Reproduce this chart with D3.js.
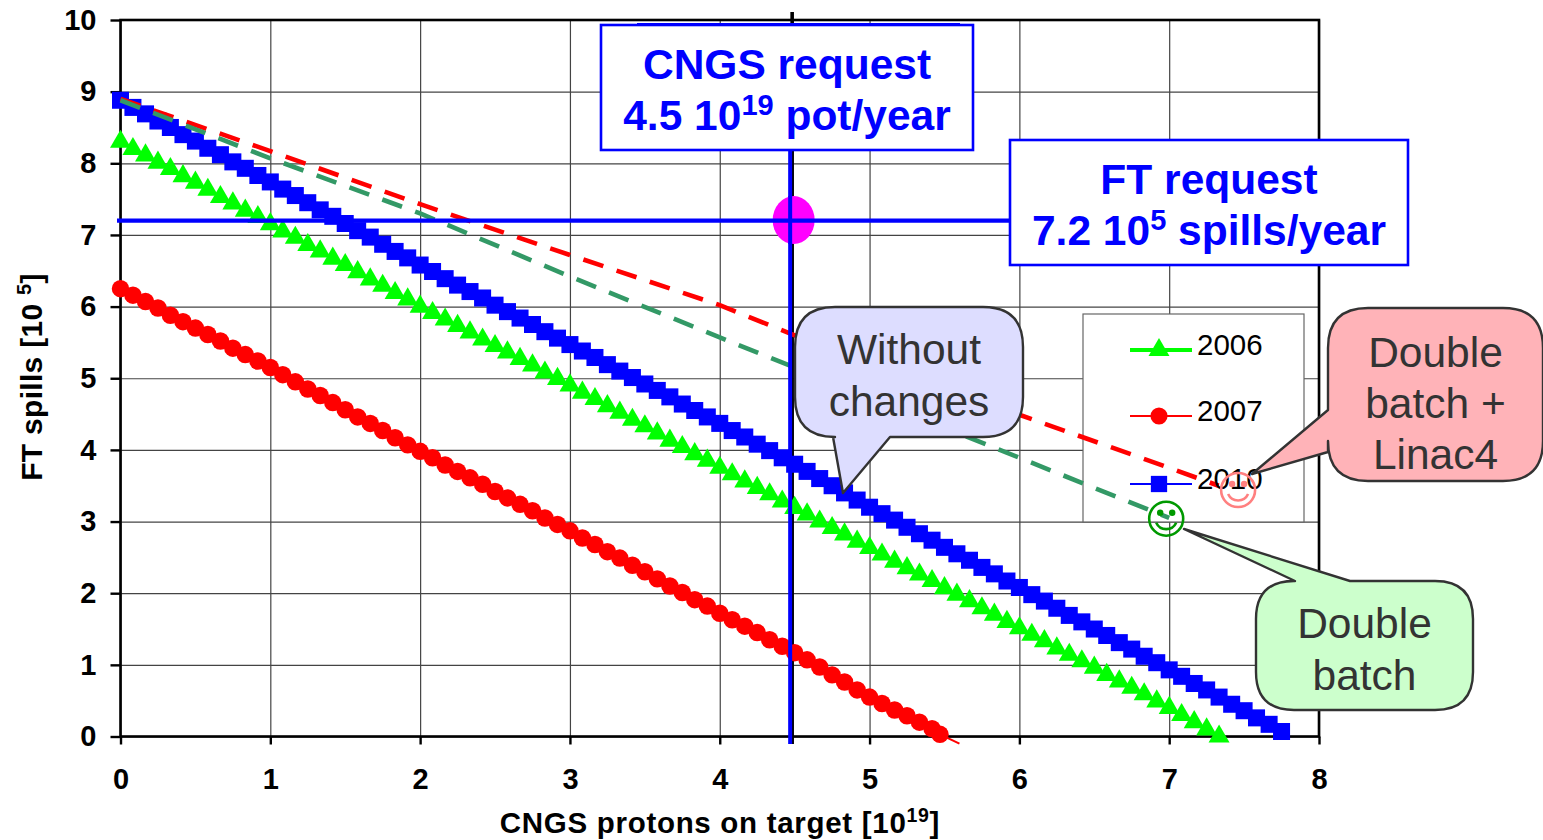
<!DOCTYPE html>
<html>
<head>
<meta charset="utf-8">
<script src="https://cdn.jsdelivr.net/npm/d3@7"></script>
<style>
  html, body { margin: 0; background: #fff; }
  svg { display: block; }
  text { font-family: "Liberation Sans", Arial, sans-serif; }
  .tick text { font-size: 29px; font-weight: bold; fill: #000; }
</style>
</head>
<body>
<svg id="chart" width="1543" height="840"></svg>
<script>
// x is the same for all three years, one point every 1/12 of a unit
const protons = [
  0, 0.083, 0.167, 0.25, 0.333, 0.417, 0.5, 0.583, 0.667, 0.75, 0.833, 0.917,
  1, 1.083, 1.167, 1.25, 1.333, 1.417, 1.5, 1.583, 1.667, 1.75, 1.833, 1.917,
  2, 2.083, 2.167, 2.25, 2.333, 2.417, 2.5, 2.583, 2.667, 2.75, 2.833, 2.917,
  3, 3.083, 3.167, 3.25, 3.333, 3.417, 3.5, 3.583, 3.667, 3.75, 3.833, 3.917,
  4, 4.083, 4.167, 4.25, 4.333, 4.417, 4.5, 4.583, 4.667, 4.75, 4.833, 4.917,
  5, 5.083, 5.167, 5.25, 5.333, 5.417, 5.47, 5.6
];
const protons2 = [
  5.5, 5.583, 5.667, 5.75, 5.833, 5.917,
  6, 6.083, 6.167, 6.25, 6.333, 6.417, 6.5, 6.583, 6.667, 6.75, 6.833, 6.917,
  7, 7.083, 7.167, 7.25, 7.333, 7.417, 7.5, 7.583, 7.667, 7.75
];
const spills2006 = [
  8.30, 8.20, 8.11, 8.01, 7.92, 7.82, 7.73, 7.63, 7.53, 7.44, 7.34, 7.25,
  7.15, 7.05, 6.96, 6.86, 6.77, 6.67, 6.58, 6.48, 6.38, 6.29, 6.19, 6.10,
  6.00, 5.91, 5.82, 5.73, 5.64, 5.54, 5.45, 5.36, 5.27, 5.18, 5.08, 4.99,
  4.90, 4.80, 4.71, 4.61, 4.52, 4.42, 4.33, 4.23, 4.13, 4.04, 3.94, 3.85,
  3.75, 3.66, 3.56, 3.47, 3.38, 3.28, 3.19, 3.10, 3.00, 2.91, 2.82, 2.72,
  2.63, 2.54, 2.44, 2.35, 2.26, 2.17, 2.07, 1.98, 1.89, 1.79, 1.70, 1.60,
  1.51, 1.42, 1.33, 1.23, 1.14, 1.05, 0.96, 0.86, 0.77, 0.68, 0.59, 0.49,
  0.40, 0.30, 0.20, 0.10, 0.00
];
const spills2007 = [
  6.25, 6.16, 6.07, 5.98, 5.88, 5.79, 5.70, 5.61, 5.52, 5.42, 5.33, 5.24,
  5.15, 5.05, 4.95, 4.85, 4.76, 4.66, 4.56, 4.46, 4.37, 4.27, 4.17, 4.07,
  3.98, 3.89, 3.79, 3.70, 3.61, 3.52, 3.42, 3.33, 3.24, 3.15, 3.05, 2.96,
  2.87, 2.77, 2.68, 2.58, 2.49, 2.39, 2.30, 2.20, 2.10, 2.01, 1.91, 1.82,
  1.72, 1.63, 1.54, 1.45, 1.35, 1.26, 1.17, 1.07, 0.97, 0.86, 0.76, 0.65,
  0.55, 0.46, 0.37, 0.29, 0.20, 0.11, 0.03
];
const spills2010 = [
  8.88, 8.78, 8.69, 8.59, 8.50, 8.40, 8.31, 8.21, 8.12, 8.02, 7.93, 7.83,
  7.74, 7.64, 7.55, 7.45, 7.35, 7.26, 7.16, 7.06, 6.97, 6.87, 6.77, 6.68,
  6.58, 6.49, 6.39, 6.30, 6.21, 6.12, 6.02, 5.93, 5.84, 5.75, 5.65, 5.56,
  5.47, 5.38, 5.29, 5.19, 5.10, 5.01, 4.92, 4.83, 4.74, 4.64, 4.55, 4.46,
  4.37, 4.27, 4.18, 4.08, 3.99, 3.89, 3.80, 3.70, 3.60, 3.50, 3.40, 3.30,
  3.20, 3.11, 3.02, 2.92, 2.83, 2.74, 2.64, 2.55, 2.46, 2.36, 2.27, 2.17,
  2.08, 1.98, 1.89, 1.79, 1.69, 1.60, 1.50, 1.41, 1.31, 1.22, 1.12, 1.03,
  0.93, 0.84, 0.74, 0.65, 0.55, 0.45, 0.36, 0.26, 0.17, 0.07
];
const dashedX = [0, 1, 2, 3, 4, 4.5, 5, 6, 7, 7.33];
const doubleBatchLinac4 = [8.9, 8.17, 7.43, 6.72, 6.02, 5.6, 5.23, 4.49, 3.75, 3.5];
const doubleBatch = [8.88, 8.07, 7.3, 6.42, 5.57, 5.15, 4.73, 3.89, 3.05];
const cngsRequest = 4.5;
const ftRequest = 7.2;
const xTicks = [0, 1, 2, 3, 4, 5, 6, 7, 8];
const yTicks = [0, 1, 2, 3, 4, 5, 6, 7, 8, 9, 10];

const svg = d3.select("#chart");
const x = d3.scaleLinear().domain([0, 8]).range([120.5, 1319]);
const y = d3.scaleLinear().domain([0, 10]).range([736.5, 20]);
const allX = protons.slice(0, 66).concat(protons2);

// grid first, frame on top of it
svg.append("g")
  .attr("transform", "translate(0,736.5)")
  .call(d3.axisBottom(x).tickValues(xTicks).tickSize(-716.5).tickFormat(""))
  .call(g => g.select(".domain").remove())
  .call(g => g.selectAll("line").attr("stroke", "#444").attr("stroke-width", 1.2));
svg.append("g")
  .attr("transform", "translate(120.5,0)")
  .call(d3.axisLeft(y).tickValues(yTicks).tickSize(-1198.5).tickFormat(""))
  .call(g => g.select(".domain").remove())
  .call(g => g.selectAll("line").attr("stroke", "#444").attr("stroke-width", 1.2));

svg.append("rect").attr("x", x(0)).attr("y", y(10))
  .attr("width", x(8) - x(0)).attr("height", y(0) - y(10))
  .attr("fill", "none").attr("stroke", "#000").attr("stroke-width", 2.6);

const xAxis = svg.append("g")
  .attr("transform", "translate(0,736.5)")
  .call(d3.axisBottom(x).tickValues(xTicks).tickSize(8).tickPadding(24).tickFormat(d3.format("d")));
xAxis.select(".domain").remove();
xAxis.selectAll("line").attr("stroke", "#000").attr("stroke-width", 2.4);
const yAxis = svg.append("g")
  .attr("transform", "translate(120.5,0)")
  .call(d3.axisLeft(y).tickValues(yTicks).tickSize(10).tickPadding(14).tickFormat(d3.format("d")));
yAxis.select(".domain").remove();
yAxis.selectAll("line").attr("stroke", "#000").attr("stroke-width", 2.4);

// legend box sits over the grid but under the dashed lines
const legendYears = ["2006", "2007", "2010"];
const legendColors = ["#00ff00", "#ff0000", "#0000ff"];
const legendWidths = [4, 2, 2];
const legendSymbols = [d3.symbolTriangle, d3.symbolCircle, d3.symbolSquare];
const legendSizes = [190, 230, 265];
const legendRows = [350, 416, 484];

svg.append("rect").attr("x", 1083).attr("y", 314).attr("width", 221).attr("height", 208)
  .attr("fill", "#fff").attr("stroke", "#666").attr("stroke-width", 1.2);

// vertical CNGS line and its black twin
svg.append("line").attr("x1", x(cngsRequest) - 2.5).attr("x2", x(cngsRequest) - 2.5)
  .attr("y1", 12).attr("y2", 744).attr("stroke", "#000").attr("stroke-width", 3.6);

function drawSeries(xs, ys, color, symbol, size, lineWidth) {
  const pts = ys.map((v, i) => [xs[i], v]);
  svg.append("path").datum(pts)
    .attr("fill", "none").attr("stroke", color).attr("stroke-width", lineWidth)
    .attr("d", d3.line().x(d => x(d[0])).y(d => y(d[1])));
  svg.append("g").selectAll("path").data(pts).join("path")
    .attr("d", d3.symbol().type(symbol).size(size))
    .attr("fill", color)
    .attr("transform", d => `translate(${x(d[0])},${y(d[1])})`);
}

drawSeries(allX, spills2006, "#00ff00", d3.symbolTriangle, 190, 2);
drawSeries(protons, spills2007, "#ff0000", d3.symbolCircle, 240, 2);
svg.append("path").datum([[protons[66], 0.03], [protons[67], -0.1]])
  .attr("stroke", "#ff0000").attr("stroke-width", 2)
  .attr("d", d3.line().x(d => x(d[0])).y(d => y(d[1])));
drawSeries(allX, spills2010, "#0000ff", d3.symbolSquare, 290, 2);

function drawDashed(ys, color) {
  svg.append("path").datum(ys.map((v, i) => [dashedX[i], v]))
    .attr("fill", "none").attr("stroke", color).attr("stroke-width", 4.6)
    .attr("stroke-dasharray", "21,14")
    .attr("d", d3.line().x(d => x(d[0])).y(d => y(d[1])));
}
drawDashed(doubleBatchLinac4, "#ff0000");
drawDashed(doubleBatch, "#339966");

// legend rows
legendYears.forEach((yr, i) => {
  const ry = legendRows[i];
  svg.append("line").attr("x1", 1130).attr("x2", 1192).attr("y1", ry).attr("y2", ry)
    .attr("stroke", legendColors[i]).attr("stroke-width", legendWidths[i]);
  svg.append("path").attr("d", d3.symbol().type(legendSymbols[i]).size(legendSizes[i]))
    .attr("fill", legendColors[i]).attr("transform", `translate(1159,${ry})`);
  svg.append("text").attr("x", 1197).attr("y", ry + 5).attr("font-size", 29.5).attr("fill", "#000").text(yr);
});

// blue request lines and boxes
svg.append("line").attr("x1", x(cngsRequest) - 4.5).attr("x2", x(cngsRequest) - 4.5)
  .attr("y1", 143).attr("y2", 744).attr("stroke", "#0000ff").attr("stroke-width", 4);
svg.append("ellipse").attr("cx", x(cngsRequest) - 1).attr("cy", y(ftRequest) - 0.5)
  .attr("rx", 21).attr("ry", 24).attr("fill", "#ff00ff");
svg.append("line").attr("x1", x(cngsRequest) - 4.5).attr("x2", x(cngsRequest) - 4.5)
  .attr("y1", 196).attr("y2", 244).attr("stroke", "#0000ff").attr("stroke-width", 4);
svg.append("line").attr("x1", 117).attr("x2", 1013).attr("y1", y(ftRequest)).attr("y2", y(ftRequest))
  .attr("stroke", "#0000ff").attr("stroke-width", 4.4);

svg.append("line").attr("x1", 637).attr("x2", 960).attr("y1", 24).attr("y2", 24)
  .attr("stroke", "#0000ff").attr("stroke-width", 2);

function requestBox(bx, by, w, h, line1, base, sup, rest) {
  svg.append("rect").attr("x", bx).attr("y", by).attr("width", w).attr("height", h)
    .attr("fill", "#fff").attr("stroke", "#0000ff").attr("stroke-width", 2.6);
  const cx = bx + w / 2;
  svg.append("text").attr("x", cx).attr("y", by + 54).attr("text-anchor", "middle")
    .attr("font-size", 42.5).attr("font-weight", "bold").attr("fill", "#0000ff").text(line1);
  const t = svg.append("text").attr("x", cx).attr("y", by + 105).attr("text-anchor", "middle")
    .attr("font-size", 42.5).attr("font-weight", "bold").attr("fill", "#0000ff");
  t.append("tspan").text(base);
  t.append("tspan").attr("dy", -15).attr("font-size", 29).text(sup);
  t.append("tspan").attr("dy", 15).text(rest);
}
requestBox(601, 25, 372, 125, "CNGS request", "4.5 10", "19", " pot/year");
requestBox(1010, 140, 398, 125, "FT request", "7.2 10", "5", " spills/year");

// callouts
function callout(bx, by, w, h, r, tail, fill, lines, firstBase, gap) {
  // rounded box with a pointed tail on one side
  const p = d3.path();
  const [a, tip, b, side] = tail;
  p.moveTo(bx + r, by);
  if (side == "top") { p.lineTo(a, by); p.lineTo(tip[0], tip[1]); p.lineTo(b, by); }
  p.lineTo(bx + w - r, by);
  p.quadraticCurveTo(bx + w, by, bx + w, by + r);
  p.lineTo(bx + w, by + h - r);
  p.quadraticCurveTo(bx + w, by + h, bx + w - r, by + h);
  if (side == "bottom") { p.lineTo(b, by + h); p.lineTo(tip[0], tip[1]); p.lineTo(a, by + h); }
  p.lineTo(bx + r, by + h);
  p.quadraticCurveTo(bx, by + h, bx, by + h - r);
  if (side == "left") { p.lineTo(bx, b); p.lineTo(tip[0], tip[1]); p.lineTo(bx, a); }
  p.lineTo(bx, by + r);
  p.quadraticCurveTo(bx, by, bx + r, by);
  p.closePath();
  svg.append("path").attr("d", p.toString()).attr("fill", fill)
    .attr("stroke", "#333").attr("stroke-width", 2.4).attr("stroke-linejoin", "round");
  lines.forEach((s, i) => {
    svg.append("text").attr("x", bx + w / 2).attr("y", firstBase + i * gap)
      .attr("text-anchor", "middle").attr("font-size", 42.5).attr("fill", "#333").text(s);
  });
}
callout(795, 307, 228, 130, 40, [833, [843, 493], 890, "bottom"], "#ddddff", ["Without", "changes"], 364, 52);
callout(1328, 308, 215, 173, 40, [410, [1252, 474], 452, "left"], "#ffb3b8", ["Double", "batch +", "Linac4"], 367, 51);
callout(1256, 581, 217, 129, 38, [1295, [1184, 529], 1350, "top"], "#ccffcc", ["Double", "batch"], 638, 52);

// smileys at the end of the dashed lines
const smileyX = [6.98, 7.46];
const smileyY = [3.04, 3.44];
const smileyColors = ["#009900", "#ff8080"];
smileyX.forEach((sx, i) => {
  const g = svg.append("g").attr("transform", `translate(${x(sx)},${y(smileyY[i])})`)
    .attr("fill", "none").attr("stroke", smileyColors[i]).attr("stroke-width", 2.6);
  g.append("circle").attr("r", 17);
  g.append("path").attr("d", "M-10,4 A11,11 0 0 0 10,4");
  g.selectAll(".eye").data([-6, 6]).join("circle")
    .attr("class", "eye")
    .attr("cx", d => d).attr("cy", -6).attr("r", 3.2)
    .attr("fill", smileyColors[i]).attr("stroke", "none");
});

// axis titles
const xTitle = svg.append("text").attr("x", 720).attr("y", 833).attr("text-anchor", "middle")
  .attr("font-size", 29.5).attr("font-weight", "bold").attr("letter-spacing", 0.7);
xTitle.append("tspan").text("CNGS protons on target [10");
xTitle.append("tspan").attr("dy", -11).attr("font-size", 19.5).text("19");
xTitle.append("tspan").attr("dy", 11).text("]");

const yTitle = svg.append("text").attr("transform", "translate(42,377) rotate(-90)")
  .attr("text-anchor", "middle").attr("font-size", 30).attr("font-weight", "bold").attr("letter-spacing", 0.3);
yTitle.append("tspan").text("FT spills [10 ");
yTitle.append("tspan").attr("dy", -11).attr("font-size", 20).text("5");
yTitle.append("tspan").attr("dy", 11).text("]");
</script>
</body>
</html>
